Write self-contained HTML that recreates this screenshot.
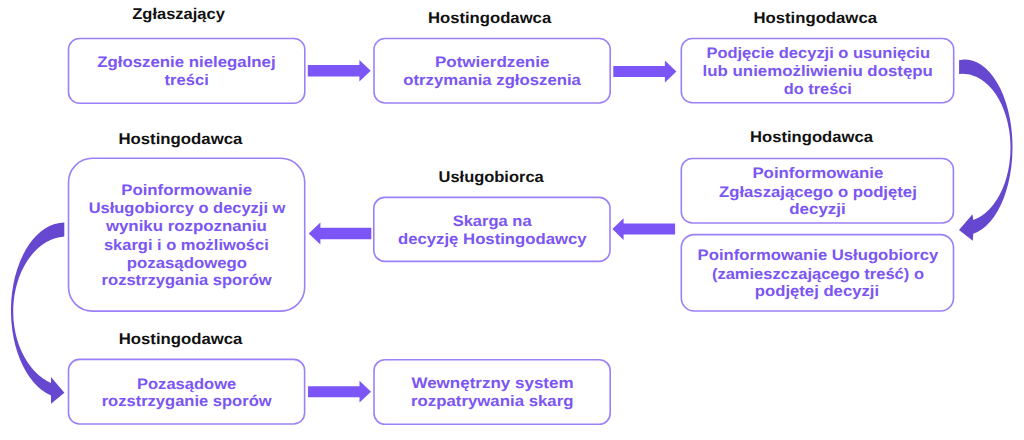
<!DOCTYPE html><html><head><meta charset="utf-8"><style>html,body{margin:0;padding:0;background:#fff;width:1024px;height:440px;overflow:hidden}svg{display:block}text{font-family:"Liberation Sans",sans-serif;font-weight:bold;text-rendering:geometricPrecision}</style></head><body>
<svg width="1024" height="440" viewBox="0 0 1024 440">
<rect x="0" y="0" width="1024" height="440" fill="#fff"/>
<rect x="68.5" y="38.5" width="236.30" height="64.70" rx="11" fill="none" stroke="#9c80f8" stroke-width="1.6"/>
<rect x="374.0" y="38.5" width="236.20" height="64.50" rx="11" fill="none" stroke="#9c80f8" stroke-width="1.6"/>
<rect x="681.3" y="38.5" width="272.40" height="64.20" rx="11" fill="none" stroke="#9c80f8" stroke-width="1.6"/>
<rect x="681.3" y="158.5" width="272.10" height="64.50" rx="11" fill="none" stroke="#9c80f8" stroke-width="1.6"/>
<rect x="681.3" y="234.6" width="272.20" height="76.40" rx="13" fill="none" stroke="#9c80f8" stroke-width="1.6"/>
<rect x="373.8" y="197.4" width="236.20" height="64.00" rx="11" fill="none" stroke="#9c80f8" stroke-width="1.6"/>
<rect x="68.5" y="158.3" width="236.20" height="152.80" rx="24" fill="none" stroke="#9c80f8" stroke-width="1.6"/>
<rect x="68.5" y="359.4" width="236.10" height="64.60" rx="11" fill="none" stroke="#9c80f8" stroke-width="1.6"/>
<rect x="374.0" y="359.7" width="236.20" height="64.60" rx="11" fill="none" stroke="#9c80f8" stroke-width="1.6"/>
<path d="M307.8,65.05 L359.4,65.05 L359.4,60.05 L370.7,70.8 L359.4,81.55 L359.4,76.55 L307.8,76.55 Z" fill="#7b55f5"/>
<path d="M613.3,66.0 L664.9,66.0 L664.9,60.6 L676.4,71.5 L664.9,82.4 L664.9,77.0 L613.3,77.0 Z" fill="#7b55f5"/>
<path d="M675.1,223.6 L623.6,223.6 L623.6,218.2 L612.4,229.1 L623.6,240.0 L623.6,234.6 L675.1,234.6 Z" fill="#7b55f5"/>
<path d="M371.3,227.85 L320.4,227.85 L320.4,222.6 L308.7,233.5 L320.4,244.4 L320.4,239.15 L371.3,239.15 Z" fill="#7b55f5"/>
<path d="M308,386.2 L359.5,386.2 L359.5,380.8 L371,391.7 L359.5,402.59999999999997 L359.5,397.2 L308,397.2 Z" fill="#7b55f5"/>
<path d="M959.10,60.18 A47.60,87.80 0 0 1 973.30,233.75 L972.8,240.8 L959.0,230.0 L972.5,214.2 L973.30,220.07 A47.77,74.10 0 0 0 959.10,73.92 Z" fill="#6547d0"/>
<path d="M64.30,222.56 A53.53,87.88 0 0 0 51.00,395.49 L51.0,403.8 L64.4,392.8 L51.0,377.0 L51.00,382.94 A54.11,75.08 0 0 1 64.30,236.39 Z" fill="#6547d0"/>
<text x="178.60" y="18.5" text-anchor="middle" font-size="15.5" fill="#111111" textLength="92.60" lengthAdjust="spacingAndGlyphs">Zgłaszający</text>
<text x="489.55" y="23.0" text-anchor="middle" font-size="15.5" fill="#111111" textLength="123.30" lengthAdjust="spacingAndGlyphs">Hostingodawca</text>
<text x="815.20" y="23.0" text-anchor="middle" font-size="15.5" fill="#111111" textLength="123.60" lengthAdjust="spacingAndGlyphs">Hostingodawca</text>
<text x="811.45" y="142.4" text-anchor="middle" font-size="15.5" fill="#111111" textLength="122.90" lengthAdjust="spacingAndGlyphs">Hostingodawca</text>
<text x="180.40" y="143.6" text-anchor="middle" font-size="15.5" fill="#111111" textLength="124.00" lengthAdjust="spacingAndGlyphs">Hostingodawca</text>
<text x="491.15" y="182.0" text-anchor="middle" font-size="15.5" fill="#111111" textLength="105.10" lengthAdjust="spacingAndGlyphs">Usługobiorca</text>
<text x="180.55" y="344.2" text-anchor="middle" font-size="15.5" fill="#111111" textLength="123.70" lengthAdjust="spacingAndGlyphs">Hostingodawca</text>
<text x="186.40" y="67" text-anchor="middle" font-size="15.2" fill="#7b56f2" textLength="178.40" lengthAdjust="spacingAndGlyphs">Zgłoszenie nielegalnej</text>
<text x="186.70" y="85" text-anchor="middle" font-size="15.2" fill="#7b56f2" textLength="44.20" lengthAdjust="spacingAndGlyphs">treści</text>
<text x="492.20" y="66.9" text-anchor="middle" font-size="15.2" fill="#7b56f2" textLength="114.60" lengthAdjust="spacingAndGlyphs">Potwierdzenie</text>
<text x="492.10" y="84.6" text-anchor="middle" font-size="15.2" fill="#7b56f2" textLength="177.60" lengthAdjust="spacingAndGlyphs">otrzymania zgłoszenia</text>
<text x="818.20" y="58" text-anchor="middle" font-size="15.2" fill="#7b56f2" textLength="223.60" lengthAdjust="spacingAndGlyphs">Podjęcie decyzji o usunięciu</text>
<text x="817.75" y="76.1" text-anchor="middle" font-size="15.2" fill="#7b56f2" textLength="230.30" lengthAdjust="spacingAndGlyphs">lub uniemożliwieniu dostępu</text>
<text x="817.85" y="94.2" text-anchor="middle" font-size="15.2" fill="#7b56f2" textLength="68.10" lengthAdjust="spacingAndGlyphs">do treści</text>
<text x="817.90" y="178.2" text-anchor="middle" font-size="15.2" fill="#7b56f2" textLength="131.00" lengthAdjust="spacingAndGlyphs">Poinformowanie</text>
<text x="817.90" y="197.3" text-anchor="middle" font-size="15.2" fill="#7b56f2" textLength="197.80" lengthAdjust="spacingAndGlyphs">Zgłaszającego o podjętej</text>
<text x="817.45" y="214" text-anchor="middle" font-size="15.2" fill="#7b56f2" textLength="56.50" lengthAdjust="spacingAndGlyphs">decyzji</text>
<text x="817.95" y="260.4" text-anchor="middle" font-size="15.2" fill="#7b56f2" textLength="240.70" lengthAdjust="spacingAndGlyphs">Poinformowanie Usługobiorcy</text>
<text x="817.95" y="278.5" text-anchor="middle" font-size="15.2" fill="#7b56f2" textLength="212.10" lengthAdjust="spacingAndGlyphs">(zamieszczającego treść) o</text>
<text x="816.95" y="295.8" text-anchor="middle" font-size="15.2" fill="#7b56f2" textLength="124.30" lengthAdjust="spacingAndGlyphs">podjętej decyzji</text>
<text x="492.15" y="225.6" text-anchor="middle" font-size="15.2" fill="#7b56f2" textLength="78.90" lengthAdjust="spacingAndGlyphs">Skarga na</text>
<text x="492.30" y="244.4" text-anchor="middle" font-size="15.2" fill="#7b56f2" textLength="188.60" lengthAdjust="spacingAndGlyphs">decyzję Hostingodawcy</text>
<text x="186.60" y="195" text-anchor="middle" font-size="15.2" fill="#7b56f2" textLength="130.80" lengthAdjust="spacingAndGlyphs">Poinformowanie</text>
<text x="187.05" y="213.2" text-anchor="middle" font-size="15.2" fill="#7b56f2" textLength="196.70" lengthAdjust="spacingAndGlyphs">Usługobiorcy o decyzji w</text>
<text x="186.40" y="231.2" text-anchor="middle" font-size="15.2" fill="#7b56f2" textLength="161.00" lengthAdjust="spacingAndGlyphs">wyniku rozpoznaniu</text>
<text x="186.35" y="249.5" text-anchor="middle" font-size="15.2" fill="#7b56f2" textLength="164.90" lengthAdjust="spacingAndGlyphs">skargi i o możliwości</text>
<text x="186.90" y="267.5" text-anchor="middle" font-size="15.2" fill="#7b56f2" textLength="120.20" lengthAdjust="spacingAndGlyphs">pozasądowego</text>
<text x="186.60" y="285.2" text-anchor="middle" font-size="15.2" fill="#7b56f2" textLength="170.00" lengthAdjust="spacingAndGlyphs">rozstrzygania sporów</text>
<text x="186.60" y="388.5" text-anchor="middle" font-size="15.2" fill="#7b56f2" textLength="99.20" lengthAdjust="spacingAndGlyphs">Pozasądowe</text>
<text x="186.65" y="406.0" text-anchor="middle" font-size="15.2" fill="#7b56f2" textLength="169.90" lengthAdjust="spacingAndGlyphs">rozstrzyganie sporów</text>
<text x="492.50" y="388.4" text-anchor="middle" font-size="15.2" fill="#7b56f2" textLength="162.20" lengthAdjust="spacingAndGlyphs">Wewnętrzny system</text>
<text x="492.25" y="406.1" text-anchor="middle" font-size="15.2" fill="#7b56f2" textLength="162.50" lengthAdjust="spacingAndGlyphs">rozpatrywania skarg</text>
</svg></body></html>
